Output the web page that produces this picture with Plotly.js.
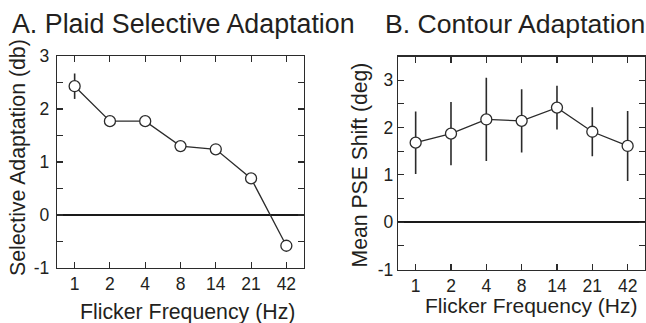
<!DOCTYPE html>
<html>
<head>
<meta charset="utf-8">
<script src="https://cdn.plot.ly/plotly-3.0.1.min.js"></script>
<style>html,body{margin:0;padding:0;background:#fff;}#chart{width:646px;height:323px;}</style>
</head>
<body>
<div id="chart"></div>
<script>
// Data
const freqLabels = ['1', '2', '4', '8', '14', '21', '42'];
const plaidAdaptation = [2.43, 1.77, 1.77, 1.30, 1.24, 0.69, -0.58];
const plaidError = [0.24, 0, 0, 0, 0, 0, 0];
const contourShift = [1.68, 1.87, 2.17, 2.14, 2.42, 1.91, 1.61];
const contourError = [0.66, 0.67, 0.88, 0.67, 0.46, 0.52, 0.74];
const yTickValsA = [-1, 0, 1, 2, 3];
const yTickTextA = ['-1', '0', '1', '2', '3'];
const yTickValsB = [-1, 0, 1, 2, 3];
const yTickTextB = ['-1', '0', '1', '2', '3'];

const W = 646, H = 323;
const FONT = 'Liberation Sans, Arial, Helvetica, sans-serif';
const TXT = '#231f20';
const LINE = '#2b2b2b';

function px(x) { return x / W; }
function py(y) { return (H - y) / H; }

const markerStyle = {symbol: 'circle', size: 11, color: '#ffffff', line: {color: LINE, width: 1.3}};

const traces = [
  {
    x: freqLabels, y: plaidAdaptation, type: 'scatter', mode: 'lines+markers',
    xaxis: 'x', yaxis: 'y',
    line: {color: LINE, width: 1.3},
    marker: markerStyle,
    error_y: {type: 'data', array: plaidError, visible: true, width: 0, thickness: 1.6, color: LINE},
    cliponaxis: false, showlegend: false, hoverinfo: 'skip'
  },
  {
    x: freqLabels, y: contourShift, type: 'scatter', mode: 'lines+markers',
    xaxis: 'x2', yaxis: 'y2',
    line: {color: LINE, width: 1.3},
    marker: markerStyle,
    error_y: {type: 'data', array: contourError, visible: true, width: 0, thickness: 1.6, color: LINE},
    cliponaxis: false, showlegend: false, hoverinfo: 'skip'
  }
];

const xCommon = {
  type: 'category', range: [-0.5, 6.5], showgrid: false, zeroline: false,
  showline: true, linecolor: LINE, linewidth: 1.3, mirror: 'ticks',
  ticks: 'inside', ticklen: 6, tickwidth: 1.1, tickcolor: LINE,
  tickfont: {family: FONT, size: 17.5, color: TXT}, fixedrange: true
};
const yCommon = {
  showgrid: false, zeroline: true, zerolinecolor: '#1a1a1a', zerolinewidth: 1.8,
  showline: true, linecolor: LINE, linewidth: 1.3, mirror: 'ticks',
  ticks: 'inside', ticklen: 6, tickwidth: 1.1, tickcolor: LINE,
  tickmode: 'array',
  minor: {dtick: 0.5, ticks: 'inside', ticklen: 6, tickwidth: 1.1, tickcolor: LINE, showgrid: false},
  tickfont: {family: FONT, size: 17.5, color: TXT}, fixedrange: true
};

const layout = {
  width: W, height: H, autosize: false,
  margin: {l: 0, r: 0, t: 0, b: 0, pad: 0},
  paper_bgcolor: '#ffffff', plot_bgcolor: '#ffffff',
  font: {family: FONT, color: TXT},
  showlegend: false,
  xaxis: Object.assign({}, xCommon, {domain: [px(57), px(304)], anchor: 'y'}),
  yaxis: Object.assign({}, yCommon, {domain: [py(268), py(56)], range: [-1, 3],
    tickvals: yTickValsA, ticktext: yTickTextA, ticklabelstandoff: 3, anchor: 'x'}),
  xaxis2: Object.assign({}, xCommon, {domain: [px(398), px(645.3)], anchor: 'y2'}),
  yaxis2: Object.assign({}, yCommon, {domain: [py(269.5), py(56.5)], range: [-1, 3.5],
    tickvals: yTickValsB, ticktext: yTickTextB, anchor: 'x2'}),
  annotations: [
    {text: 'A. Plaid Selective Adaptation', xref: 'paper', yref: 'paper', x: px(10), y: py(24),
     xanchor: 'left', yanchor: 'middle', showarrow: false, font: {family: FONT, size: 26.8, color: TXT}},
    {text: 'B. Contour Adaptation', xref: 'paper', yref: 'paper', x: px(383), y: py(24),
     xanchor: 'left', yanchor: 'middle', showarrow: false, font: {family: FONT, size: 26.6, color: TXT}},
    {text: 'Flicker Frequency (Hz)', xref: 'paper', yref: 'paper', x: px(187), y: py(312),
     xanchor: 'center', yanchor: 'middle', showarrow: false, font: {family: FONT, size: 21.3, color: TXT}},
    {text: 'Flicker Frequency (Hz)', xref: 'paper', yref: 'paper', x: px(530.5), y: py(305),
     xanchor: 'center', yanchor: 'middle', showarrow: false, font: {family: FONT, size: 21, color: TXT}},
    {text: 'Selective Adaptation (db)', xref: 'paper', yref: 'paper', x: px(18), y: py(158),
     xanchor: 'center', yanchor: 'middle', textangle: -90, showarrow: false, font: {family: FONT, size: 21.3, color: TXT}},
    {text: 'Mean PSE Shift (deg)', xref: 'paper', yref: 'paper', x: px(360), y: py(165.5),
     xanchor: 'center', yanchor: 'middle', textangle: -90, showarrow: false, font: {family: FONT, size: 21.2, color: TXT}}
  ]
};

Plotly.newPlot('chart', traces, layout, {staticPlot: true, displayModeBar: false});
</script>
</body>
</html>
